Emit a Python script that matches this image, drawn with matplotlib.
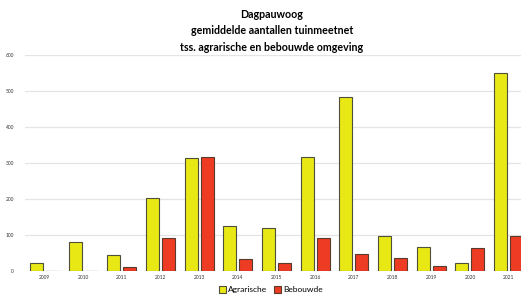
import numpy as np
import matplotlib.pyplot as plt

plt.rcParams['font.family'] = ['Lato', 'DejaVu Sans']

jaren = ['2009', '2010', '2011', '2012', '2013', '2014', '2015', '2016', '2017', '2018', '2019', '2020', '2021']
agrarische = [22, 80, 44, 203, 314, 124, 120, 317, 484, 98, 67, 21, 550]
bebouwde = [0, 0, 10, 92, 317, 33, 22, 92, 48, 35, 14, 64, 96]

fig = plt.figure(figsize=(5.21, 2.95), dpi=100)
ax = fig.add_axes([25 / 521, 24 / 295, 1 - 25 / 521, 216 / 295])

x = np.arange(len(jaren))
w = 0.335
ax.bar(x - 0.206, agrarische, w, color='#E8E815', edgecolor='#4f4f3a', linewidth=0.8, label='Agrarische', zorder=3)
ax.bar(x + 0.206, bebouwde, w, color='#EE3B24', edgecolor='#5a3a2a', linewidth=0.8, label='Bebouwde', zorder=3)

ax.set_ylim(0, 600)
ax.set_xlim(-0.5, 12.32)
ax.set_yticks(range(0, 601, 100))
ax.set_xticks(x)
ax.set_xticklabels(jaren)
ax.tick_params(axis='both', length=0, labelsize=3.5, colors='#333333')
ax.tick_params(axis='y', pad=8)
ax.tick_params(axis='x', pad=3)
ax.grid(axis='y', color='#e4e4e4', linewidth=0.9, zorder=0)
for s in ax.spines.values():
    s.set_visible(False)

fig.text(0.522, 0.97, 'Dagpauwoog\ngemiddelde aantallen tuinmeetnet\ntss. agrarische en bebouwde omgeving',
         ha='center', va='top', fontsize=7.7, fontweight='bold', linespacing=1.6)

fig.legend(loc='lower center', bbox_to_anchor=(0.52, -0.02), ncol=2, frameon=False, fontsize=6,
           handlelength=0.8, handleheight=0.8, handletextpad=0.3, columnspacing=0.8)

fig.savefig('out.png', dpi=100)
